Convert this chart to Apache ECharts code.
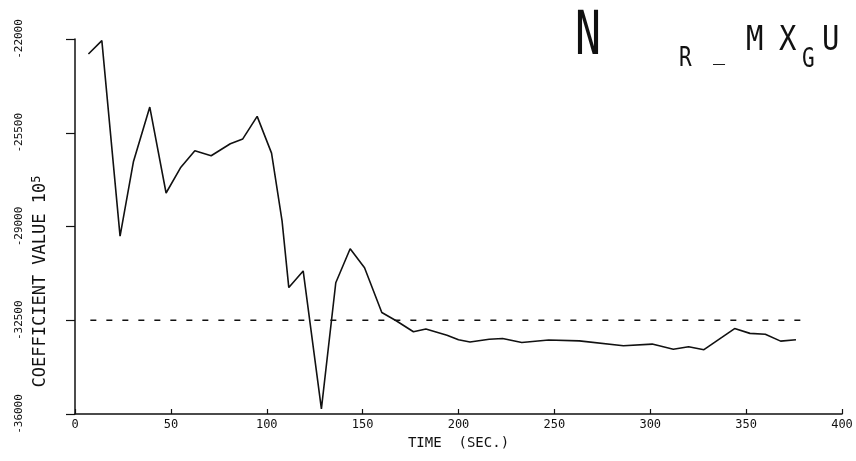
<!DOCTYPE html>
<html>
<head>
<meta charset="utf-8">
<script src="https://cdn.jsdelivr.net/npm/echarts@6/dist/echarts.min.js"></script>
<style>
  html, body { margin: 0; padding: 0; background: #fff; }
  #chart { width: 856px; height: 461px; }
</style>
</head>
<body>
<div id="chart"></div>
<script>
// time (sec) and coefficient values
var times = [7, 14, 23.5, 30.5, 39, 47.5, 55, 62.5, 71, 81, 87.5, 95, 102.5, 108, 111.5, 119, 128.5, 136, 143.5, 151, 160, 167.5, 176.5, 183, 194, 200, 206, 216, 223, 233, 247, 263, 286, 301, 312, 320, 328, 344, 352, 360, 368, 376]
var values = [-22560, -22060, -29360, -26570, -24540, -27750, -26810, -26170, -26360, -25910, -25730, -24890, -26260, -28800, -31280, -30660, -35810, -31100, -29830, -30540, -32210, -32520, -32930, -32830, -33060, -33230, -33310, -33210, -33180, -33330, -33240, -33270, -33450, -33390, -33580, -33490, -33600, -32810, -32990, -33020, -33280, -33230]
var refTimes = [8, 380]
var refValue = -32500
var yTicks = [-36000, -32500, -29000, -25500, -22000]
var xTicks = [0, 50, 100, 150, 200, 250, 300, 350, 400]

var font = 'DejaVu Sans Mono'
var chart = echarts.init(document.getElementById('chart'))

// title letters, plotter style (big N, subscripts R and G)
function letter (ch, x, y, size, sx) {
  return {
    type: 'text', x: x, y: y, scaleX: sx || 0.8,
    style: { text: ch, font: size + 'px ' + font, fill: '#111', textVerticalAlign: 'top' }
  }
}

var option = {
  animation: false,
  backgroundColor: '#fff',
  grid: { left: 75, top: 39, right: 14, bottom: 47, containLabel: false, outerBoundsMode: 'none' },
  graphic: [
    letter('N', 575, 8, 60, 0.72),
    letter('R', 679, 45, 27, 0.78),
    letter('_', 713, 40, 25, 0.8),
    letter('M', 746, 24, 34, 0.85),
    letter('X', 779, 24, 34, 0.85),
    letter('G', 802, 46, 27, 0.78),
    letter('U', 822, 24, 34, 0.85)
  ],
  xAxis: {
    type: 'value',
    min: xTicks[0],
    max: xTicks[xTicks.length - 1],
    interval: 50,
    name: 'TIME  (SEC.)',
    nameLocation: 'middle',
    nameGap: 22,
    nameMoveOverlap: false,
    nameTextStyle: { fontFamily: font, fontSize: 14, color: '#111' },
    axisLine: { show: true, onZero: false, lineStyle: { color: '#111', width: 1.5 } },
    axisTick: { show: true, inside: true, length: 5, lineStyle: { color: '#111', width: 1.2 } },
    axisLabel: { fontFamily: font, fontSize: 12, color: '#111', margin: 5 },
    splitLine: { show: false }
  },
  yAxis: {
    type: 'value',
    min: yTicks[0],
    max: yTicks[yTicks.length - 1],
    interval: 3500,
    name: 'COEFFICIENT VALUE 10{sup|5}',
    nameLocation: 'middle',
    nameRotate: 90,
    nameGap: 24,
    nameMoveOverlap: false,
    nameTextStyle: {
      fontFamily: font, fontSize: 17, color: '#111',
      padding: [0, 110, 0, 0],
      rich: { sup: { fontFamily: font, fontSize: 12, color: '#111', verticalAlign: 'top', padding: [0, 0, 8, 0] } }
    },
    axisLine: { show: true, lineStyle: { color: '#111', width: 1.5 } },
    axisTick: { show: true, length: 9, lineStyle: { color: '#111', width: 1.2 } },
    axisLabel: {
      fontFamily: font, fontSize: 11, color: '#111', rotate: 90, margin: 50,
      formatter: function (v) { return String(v) }
    },
    splitLine: { show: false }
  },
  series: [
    {
      type: 'line',
      data: times.map(function (t, i) { return [t, values[i]] }),
      showSymbol: false,
      lineStyle: { color: '#111', width: 1.6 }
    },
    {
      type: 'line',
      data: refTimes.map(function (t) { return [t, refValue] }),
      showSymbol: false,
      lineStyle: { color: '#111', width: 1.6, type: [6, 10] }
    }
  ]
}
chart.setOption(option)
</script>
</body>
</html>
